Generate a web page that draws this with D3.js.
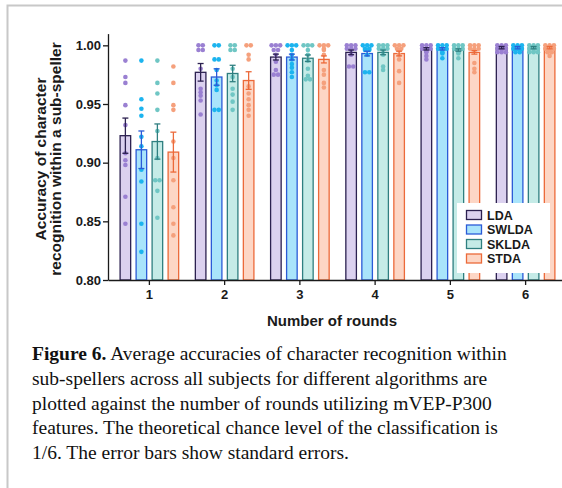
<!DOCTYPE html>
<html>
<head>
<meta charset="utf-8">
<script src="https://cdn.jsdelivr.net/npm/d3@7"></script>
<style>
  body { margin: 0; background: #fff; }
  svg { display: block; }
</style>
</head>
<body>
<div id="chart"></div>
<script>
const rounds = ["1", "2", "3", "4", "5", "6"];
const algorithms = ["LDA", "SWLDA", "SKLDA", "STDA"];

const meanLDA   = [0.923, 0.977, 0.990, 0.994, 0.997, 0.998];
const meanSWLDA = [0.911, 0.973, 0.990, 0.993, 0.997, 0.998];
const meanSKLDA = [0.918, 0.976, 0.989, 0.994, 0.996, 0.998];
const meanSTDA  = [0.909, 0.970, 0.988, 0.993, 0.994, 0.998];

const semLDA   = [0.015, 0.0075, 0.0025, 0.002, 0.001, 0.001];
const semSWLDA = [0.016, 0.007, 0.0025, 0.002, 0.001, 0.001];
const semSKLDA = [0.015, 0.007, 0.0028, 0.002, 0.001, 0.001];
const semSTDA  = [0.017, 0.0075, 0.003, 0.002, 0.0015, 0.001];

// per-subject accuracies (10 subjects), one list per round
const ptsLDA = [
    [0.987, 0.973, 0.968, 0.949, 0.932, 0.908, 0.902, 0.898, 0.871, 0.848],
    [1, 1, 0.996, 0.996, 0.980, 0.963, 0.960, 0.957, 0.953, 0.941],
    [1, 1, 1, 0.996, 0.996, 0.992, 0.986, 0.979, 0.975, 0.975],
    [1, 1, 1, 1, 1, 1, 0.996, 0.992, 0.982, 0.982],
    [1, 1, 1, 1, 1, 1, 1, 0.995, 0.991, 0.988],
    [1, 1, 1, 1, 1, 1, 1, 1, 1, 0.996]
];
const ptsSWLDA = [
    [0.987, 0.954, 0.946, 0.940, 0.922, 0.914, 0.894, 0.884, 0.848, 0.824],
    [1, 1, 0.988, 0.988, 0.979, 0.970, 0.966, 0.962, 0.945, 0.945],
    [1, 1, 1, 0.996, 0.992, 0.988, 0.984, 0.981, 0.977, 0.973],
    [1, 1, 1, 1, 1, 0.996, 0.996, 0.992, 0.977, 0.977],
    [1, 1, 1, 1, 1, 1, 1, 0.996, 0.993, 0.989],
    [1, 1, 1, 1, 1, 1, 1, 1, 0.996, 0.996]
];
const ptsSKLDA = [
    [0.987, 0.968, 0.959, 0.945, 0.927, 0.904, 0.885, 0.885, 0.876, 0.853],
    [1, 1, 0.996, 0.996, 0.980, 0.973, 0.963, 0.958, 0.952, 0.945],
    [1, 1, 1, 0.996, 0.992, 0.987, 0.980, 0.974, 0.971, 0.971],
    [1, 1, 1, 1, 1, 1, 0.996, 0.992, 0.982, 0.979],
    [1, 1, 1, 1, 1, 1, 1, 0.996, 0.993, 0.989],
    [1, 1, 1, 1, 1, 1, 1, 1, 1, 0.995]
];
const ptsSTDA = [
    [0.982, 0.968, 0.949, 0.945, 0.918, 0.904, 0.885, 0.862, 0.848, 0.838],
    [1, 1, 0.992, 0.988, 0.965, 0.959, 0.954, 0.949, 0.945, 0.940],
    [1, 1, 1, 1, 0.996, 0.992, 0.979, 0.975, 0.968, 0.964],
    [1, 1, 1, 1, 1, 0.996, 0.992, 0.988, 0.978, 0.968],
    [1, 1, 1, 1, 1, 1, 0.996, 0.985, 0.980, 0.977],
    [1, 1, 1, 1, 1, 1, 1, 1, 0.995, 0.991]
];

const yTicks = [0.80, 0.85, 0.90, 0.95, 1.00];

const captionLines = [
    ["Figure 6.", " Average accuracies of character recognition within"],
    ["", "sub-spellers across all subjects for different algorithms are"],
    ["", "plotted against the number of rounds utilizing mVEP-P300"],
    ["", "features. The theoretical chance level of the classification is"],
    ["", "1/6. The error bars show standard errors."]
];

const series = [
    { name: "LDA",   mean: meanLDA,   sem: semLDA,   pts: ptsLDA,   fill: "#dbd1ef", stroke: "#2c2150", dot: "#9a80d2" },
    { name: "SWLDA", mean: meanSWLDA, sem: semSWLDA, pts: ptsSWLDA, fill: "#a9e4fb", stroke: "#2b5bd7", dot: "#1cb4ef" },
    { name: "SKLDA", mean: meanSKLDA, sem: semSKLDA, pts: ptsSKLDA, fill: "#c5ebe7", stroke: "#2f7f80", dot: "#6fc6c4" },
    { name: "STDA",  mean: meanSTDA,  sem: semSTDA,  pts: ptsSTDA,  fill: "#fdd6c5", stroke: "#ec6a3a", dot: "#f5a07c" }
];

const W = 562, H = 488;
const sans = "'Liberation Sans', Arial, sans-serif";

const svg = d3.select("#chart").append("svg")
    .attr("width", W)
    .attr("height", H);

svg.append("rect")
    .attr("x", 7.5).attr("y", 5.5)
    .attr("width", 570).attr("height", 500)
    .attr("fill", "#fff")
    .attr("stroke", "#c8c8c8")
    .attr("stroke-width", 2);

const x0 = d3.scaleBand()
    .domain(rounds)
    .range([108, 567])
    .paddingInner(0)
    .paddingOuter(0.05);

const x1 = d3.scaleBand()
    .domain(algorithms)
    .range([0, 64])
    .paddingInner(0.34)
    .paddingOuter(0.17);

const y = d3.scaleLinear()
    .domain([0.80, 1.01])
    .range([280, 33.6]);

const groupLeft = r => x0(r) + x0.bandwidth() / 2 - 32;

const plot = svg.append("g");

// bars
series.forEach(s => {
    plot.selectAll(null)
        .data(rounds)
        .enter().append("rect")
        .attr("x", r => groupLeft(r) + x1(s.name))
        .attr("y", (r, i) => y(s.mean[i]))
        .attr("width", x1.bandwidth())
        .attr("height", (r, i) => y(0.80) - y(s.mean[i]))
        .attr("fill", s.fill)
        .attr("stroke", s.stroke)
        .attr("stroke-width", 1.3);
});

// subject dots, spread sideways when they sit at the same height
const rDot = 2.3, dStep = 4.3;
series.forEach(s => {
    rounds.forEach((r, i) => {
        const cx = groupLeft(r) + x1(s.name) + x1.bandwidth() / 2;
        const bins = d3.groups(s.pts[i], v => Math.round(y(v) / 4.6));
        bins.forEach(([, vals]) => {
            vals.forEach((v, k) => {
                const row = Math.floor(k / 3);
                const inRow = Math.min(3, vals.length - row * 3);
                const col = k % 3;
                plot.append("circle")
                    .attr("cx", cx + (col - (inRow - 1) / 2) * dStep)
                    .attr("cy", y(v) + row * dStep * 0.8)
                    .attr("r", rDot)
                    .attr("fill", s.dot);
            });
        });
    });
});

// error bars
series.forEach(s => {
    rounds.forEach((r, i) => {
        const cx = groupLeft(r) + x1(s.name) + x1.bandwidth() / 2;
        const top = y(s.mean[i] + s.sem[i]), bot = y(s.mean[i] - s.sem[i]);
        const g = plot.append("g")
            .attr("stroke", s.stroke)
            .attr("stroke-width", 1.3);
        g.append("line").attr("x1", cx).attr("x2", cx).attr("y1", top).attr("y2", bot);
        g.append("line").attr("x1", cx - 3).attr("x2", cx + 3).attr("y1", top).attr("y2", top);
        g.append("line").attr("x1", cx - 3).attr("x2", cx + 3).attr("y1", bot).attr("y2", bot);
    });
});

// axes
const xAxis = svg.append("g")
    .attr("transform", "translate(0,280)")
    .call(d3.axisBottom(x0).tickSize(5).tickSizeOuter(0).tickPadding(5));

const yAxis = svg.append("g")
    .attr("transform", "translate(108,0)")
    .call(d3.axisLeft(y).tickValues(yTicks).tickFormat(d3.format(".2f")).tickSize(5).tickSizeOuter(0).tickPadding(2));

[xAxis, yAxis].forEach(a => {
    a.selectAll("path, line").attr("stroke", "#1a1a1a").attr("stroke-width", 1.3);
    a.selectAll("text")
        .attr("fill", "#1a1a1a")
        .style("font-family", sans)
        .style("font-weight", "bold")
        .style("font-size", "13px");
});

svg.append("text")
    .attr("x", 332)
    .attr("y", 326)
    .attr("text-anchor", "middle")
    .style("font-family", sans)
    .style("font-weight", "bold")
    .style("font-size", "15px")
    .attr("fill", "#1a1a1a")
    .text("Number of rounds");

const yTitle = svg.append("text")
    .attr("transform", "translate(0,159) rotate(-90)")
    .attr("text-anchor", "middle")
    .style("font-family", sans)
    .style("font-weight", "bold")
    .style("font-size", "15.5px")
    .attr("fill", "#1a1a1a");
yTitle.append("tspan").attr("x", 0).attr("y", 46).text("Accuracy of character");
yTitle.append("tspan").attr("x", 0).attr("y", 61).text("recognition within a sub-speller");

// legend
const legend = svg.append("g");
legend.append("rect")
    .attr("x", 457).attr("y", 203)
    .attr("width", 93).attr("height", 70)
    .attr("fill", "#fff");

const item = legend.selectAll(".legend")
    .data(series)
    .enter().append("g")
    .attr("class", "legend")
    .attr("transform", (d, i) => `translate(0,${215 + i * 14.5})`);

item.append("rect")
    .attr("x", 466.5).attr("y", -4.5)
    .attr("width", 15).attr("height", 9)
    .attr("fill", d => d.fill)
    .attr("stroke", d => d.stroke)
    .attr("stroke-width", 1.3);

item.append("text")
    .attr("x", 487)
    .attr("dy", "0.36em")
    .style("font-family", sans)
    .style("font-weight", "bold")
    .style("font-size", "12.5px")
    .attr("fill", "#1a1a1a")
    .text(d => d.name);

// caption
const cap = svg.append("g")
    .style("font-family", "'Liberation Serif', 'Times New Roman', serif")
    .style("font-size", "19.5px")
    .attr("fill", "#111");

captionLines.forEach((ln, i) => {
    const t = cap.append("text")
        .attr("x", 32)
        .attr("y", 360 + i * 24.8);
    if (ln[0]) t.append("tspan").style("font-weight", "bold").text(ln[0]);
    t.append("tspan").text(ln[1]);
});
</script>
</body>
</html>
